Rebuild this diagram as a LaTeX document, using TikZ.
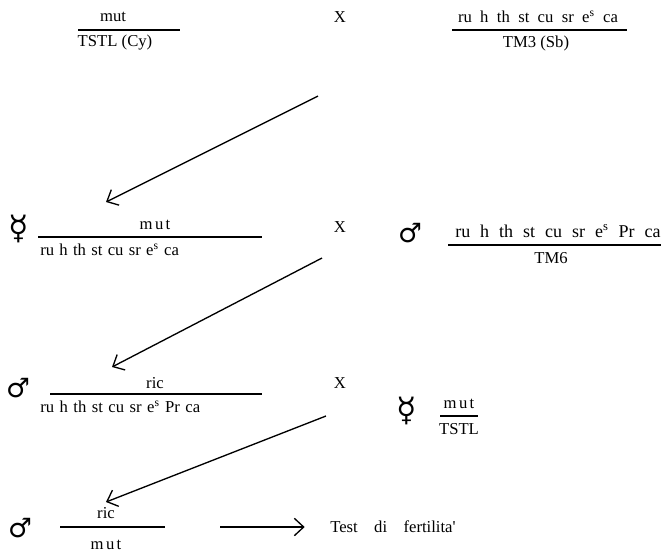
\documentclass[tikz,border=0pt]{standalone}
\usepackage{fontspec}
\setmainfont{Liberation Serif}
\newfontfamily\symfont{DejaVu Sans}
\usetikzlibrary{arrows.meta}
\newcommand\spread[1]{{\addfontfeature{LetterSpace=14}#1}}
\newcommand\genes[2]{\makebox[#1][s]{#2}}

\begin{document}
\begin{tikzpicture}[x=0.75pt,y=-0.75pt,
  gene/.style={inner sep=0pt,font=\fontsize{12.5}{14}\selectfont},
  biggene/.style={gene,font=\fontsize{13.5}{15}\selectfont},
  sexsym/.style={inner sep=0pt,font=\symfont\fontsize{20}{22}\selectfont},
  herm/.style={inner sep=0pt,font=\symfont\fontsize{25}{27}\selectfont},
  bar/.style={line width=0.9pt},
  cross/.style={line width=1pt,-{Straight Barb[length=7pt,width=13pt]}},
]
\useasboundingbox (0,0) rectangle (661,558);

% parents, first cross
\node[gene] (p1top) at (113,17) {mut};
\draw[bar] (78,30) -- (180,30);
\node[gene] (p1bot) at (115,43) {TSTL (Cy)};
\node[gene] (x1) at (340,17) {X};
\node[gene] (q1top) at (538,17) {\genes{120pt}{ru h th st cu sr e\textsuperscript{s} ca}};
\draw[bar] (452,30) -- (627,30);
\node[gene] (q1bot) at (536,43) {TM3 (Sb)};

\coordinate (a1s) at (318,96);
\coordinate (a1e) at (106,202);
\draw[cross] (a1s) -- (a1e);

% second cross
\node[herm] (s2) at (19,229) {☿};
\node[gene] (p2top) at (155,225) {\spread{mut}};
\draw[bar] (38,237) -- (262,237);
\node[gene,anchor=west] (p2bot) at (40,250) {\genes{104pt}{ru h th st cu sr e\textsuperscript{s} ca}};
\node[gene] (x2) at (340,227) {X};
\node[sexsym] (s2b) at (410,233) {♂};
\node[biggene,anchor=west] (q2top) at (455,231) {\genes{154pt}{ru h th st cu sr e\textsuperscript{s} Pr ca}};
\draw[bar] (448,245) -- (661,245);
\node[gene] (q2bot) at (551,258) {TM6};

\coordinate (a2s) at (322,258);
\coordinate (a2e) at (112,367);
\draw[cross] (a2s) -- (a2e);

% third cross
\node[sexsym] (s3) at (18,388) {♂};
\node[gene] (p3top) at (155,383) {ric};
\draw[bar] (50,394) -- (262,394);
\node[gene,anchor=west] (p3bot) at (40,407) {\genes{120pt}{ru h th st cu sr e\textsuperscript{s} Pr ca}};
\node[gene] (x3) at (340,383) {X};
\node[herm] (s3b) at (407,411) {☿};
\node[gene] (q3top) at (459,404) {\spread{mut}};
\draw[bar] (440,416) -- (478,416);
\node[gene] (q3bot) at (459,429) {TSTL};

\coordinate (a3s) at (326,416);
\coordinate (a3e) at (106,502);
\draw[cross] (a3s) -- (a3e);

% progeny
\node[sexsym] (s4) at (20,528) {♂};
\node[gene] (p4top) at (106,513) {ric};
\draw[bar] (60,527) -- (165,527);
\node[gene] (p4bot) at (106,545) {\spread{mut}};
\node[gene,anchor=west] (test) at (330,527) {\genes{94pt}{Test di fertilita\textquotesingle}};
\coordinate (a4s) at (220,527);
\draw[cross] (a4s) -- ([xshift=-19pt]test.west);
\end{tikzpicture}
\end{document}
